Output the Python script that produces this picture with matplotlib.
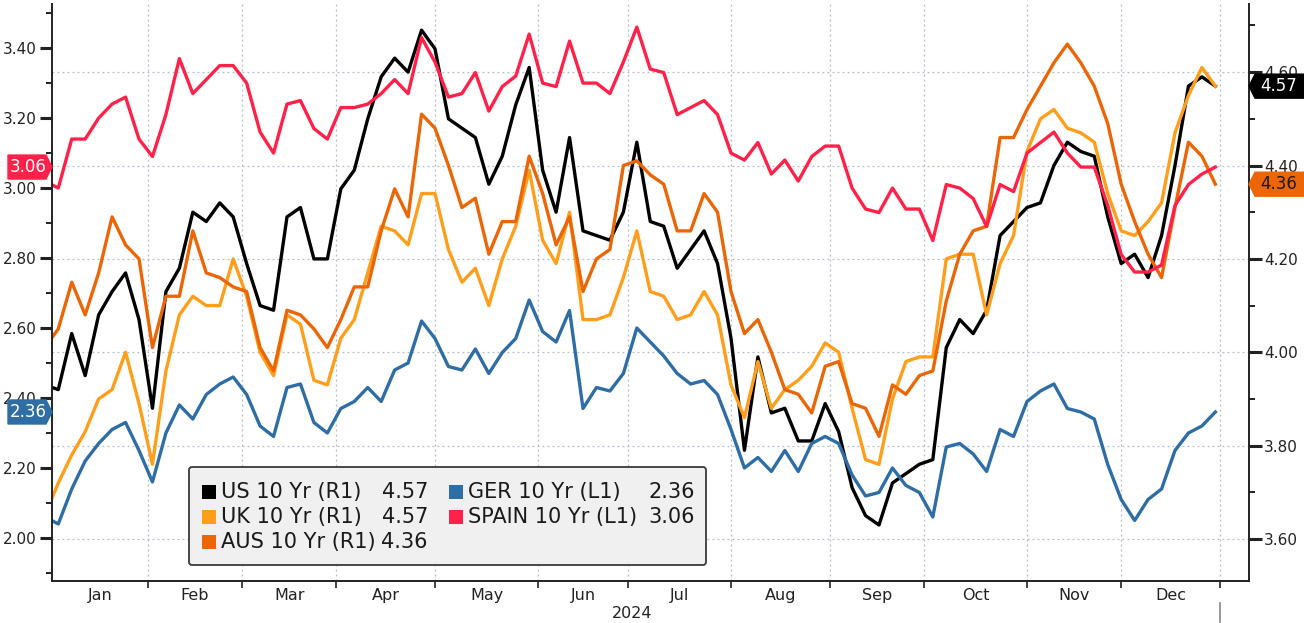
import numpy as np
import matplotlib.pyplot as plt
from matplotlib.patches import Polygon, FancyBboxPatch, Rectangle
from matplotlib.lines import Line2D
from matplotlib.ticker import FormatStrFormatter, MultipleLocator
from matplotlib.transforms import IdentityTransform, blended_transform_factory

plt.rcParams['font.family'] = ['DejaVu Sans']

W, H = 1304, 623

# every 3rd business day of 2024 (x = business days since 1 Jan 2024)
dates = np.busday_offset('2024-01-01', np.arange(0, 262, 3), roll='forward')

us_10y = [3.93, 3.92, 4.04, 3.95, 4.08, 4.13, 4.17, 4.07, 3.88, 4.13, 4.18, 4.30, 4.28, 4.32, 4.29, 4.19,
          4.10, 4.09, 4.29, 4.31, 4.20, 4.20, 4.35, 4.39, 4.50, 4.59, 4.63, 4.60, 4.69, 4.65,
          4.50, 4.48, 4.46, 4.36, 4.42, 4.53, 4.61, 4.39, 4.30, 4.46, 4.26, 4.25, 4.24, 4.30, 4.45,
          4.28, 4.27, 4.18, 4.22, 4.26, 4.19, 4.03, 3.79, 3.99, 3.87, 3.88, 3.81, 3.81, 3.89,
          3.83, 3.71, 3.65, 3.63, 3.72, 3.74, 3.76, 3.77, 4.01, 4.07, 4.04, 4.09, 4.25, 4.28, 4.31,
          4.32, 4.40, 4.45, 4.43, 4.42, 4.29, 4.19, 4.21, 4.16, 4.25, 4.40, 4.57, 4.59, 4.57]
uk_10y = [3.65, 3.72, 3.78, 3.83, 3.90, 3.92, 4.00, 3.89, 3.76, 3.96, 4.08, 4.12, 4.10, 4.10, 4.20, 4.12,
          4.00, 3.95, 4.08, 4.06, 3.94, 3.93, 4.03, 4.07, 4.17, 4.27, 4.26, 4.23, 4.34, 4.34,
          4.22, 4.15, 4.18, 4.10, 4.20, 4.27, 4.39, 4.24, 4.19, 4.30, 4.07, 4.07, 4.08, 4.16, 4.26,
          4.13, 4.12, 4.07, 4.08, 4.13, 4.08, 3.93, 3.86, 3.98, 3.88, 3.92, 3.94, 3.97, 4.02,
          4.00, 3.88, 3.77, 3.76, 3.90, 3.98, 3.99, 3.99, 4.20, 4.21, 4.21, 4.08, 4.19, 4.25, 4.43,
          4.50, 4.52, 4.48, 4.47, 4.45, 4.34, 4.26, 4.25, 4.28, 4.32, 4.47, 4.55, 4.61, 4.57]
aus_10y = [4.01, 4.05, 4.15, 4.08, 4.17, 4.29, 4.23, 4.20, 4.01, 4.12, 4.12, 4.26, 4.17, 4.16, 4.14, 4.13,
           4.01, 3.96, 4.09, 4.08, 4.05, 4.01, 4.07, 4.14, 4.14, 4.26, 4.35, 4.29, 4.51, 4.48,
           4.40, 4.31, 4.33, 4.21, 4.28, 4.28, 4.42, 4.34, 4.23, 4.29, 4.13, 4.20, 4.22, 4.40, 4.41,
           4.38, 4.36, 4.26, 4.26, 4.34, 4.30, 4.13, 4.04, 4.07, 4.00, 3.92, 3.91, 3.87, 3.97,
           3.98, 3.89, 3.88, 3.82, 3.93, 3.91, 3.95, 3.96, 4.11, 4.21, 4.26, 4.27, 4.46, 4.46, 4.52,
           4.57, 4.62, 4.66, 4.62, 4.57, 4.49, 4.36, 4.28, 4.21, 4.16, 4.31, 4.45, 4.42, 4.36]
ger_10y = [2.06, 2.04, 2.14, 2.22, 2.27, 2.31, 2.33, 2.25, 2.16, 2.30, 2.38, 2.34, 2.41, 2.44, 2.46, 2.41,
           2.32, 2.29, 2.43, 2.44, 2.33, 2.30, 2.37, 2.39, 2.43, 2.39, 2.48, 2.50, 2.62, 2.57,
           2.49, 2.48, 2.54, 2.47, 2.53, 2.57, 2.68, 2.59, 2.56, 2.65, 2.37, 2.43, 2.42, 2.47, 2.60,
           2.56, 2.52, 2.47, 2.44, 2.45, 2.41, 2.31, 2.20, 2.23, 2.19, 2.25, 2.19, 2.27, 2.29,
           2.27, 2.18, 2.12, 2.13, 2.20, 2.15, 2.13, 2.06, 2.26, 2.27, 2.24, 2.19, 2.31, 2.29, 2.39,
           2.42, 2.44, 2.37, 2.36, 2.34, 2.21, 2.11, 2.05, 2.11, 2.14, 2.25, 2.30, 2.32, 2.36]
spain_10y = [3.02, 3.00, 3.14, 3.14, 3.20, 3.24, 3.26, 3.14, 3.09, 3.21, 3.37, 3.27, 3.31, 3.35, 3.35, 3.30,
             3.16, 3.10, 3.24, 3.25, 3.17, 3.14, 3.23, 3.23, 3.24, 3.27, 3.31, 3.27, 3.43, 3.36,
             3.26, 3.27, 3.33, 3.22, 3.29, 3.32, 3.44, 3.30, 3.29, 3.42, 3.30, 3.30, 3.27, 3.36, 3.46,
             3.34, 3.33, 3.21, 3.23, 3.25, 3.21, 3.10, 3.08, 3.13, 3.04, 3.08, 3.02, 3.09, 3.12,
             3.12, 3.00, 2.94, 2.93, 3.00, 2.94, 2.94, 2.85, 3.01, 3.00, 2.97, 2.89, 3.01, 2.99, 3.10,
             3.13, 3.16, 3.10, 3.06, 3.06, 2.95, 2.81, 2.76, 2.76, 2.78, 2.95, 3.01, 3.04, 3.06]

months = ['Jan', 'Feb', 'Mar', 'Apr', 'May', 'Jun', 'Jul', 'Aug', 'Sep', 'Oct', 'Nov', 'Dec']

c_us, c_uk, c_aus, c_ger, c_spain = '#000000', '#ff9e1b', '#ec6608', '#2f6da6', '#ff2149'
txt = '#222222'
gridc = '#b3bccb'

x = np.busday_count('2024-01-01', dates)
month_starts = np.arange('2024-01', '2025-02', dtype='datetime64[M]').astype('datetime64[D]')
bounds = np.busday_count('2024-01-01', month_starts)

fig = plt.figure(figsize=(W / 100, H / 100), dpi=100)
ax = fig.add_axes([52 / W, (H - 581) / H, (1249 - 52) / W, (581 - 4) / H])
ax2 = ax.twinx()
ax.set_zorder(ax2.get_zorder() + 1)
ax.patch.set_visible(False)

x0, x1 = 1.6, 268.5
ax.set_xlim(x0, x1)
ax.set_ylim(1.877, 3.526)
ax2.set_ylim(3.51, 4.746)

for xb in bounds[1:]:
    ax2.axvline(xb, color=gridc, lw=0.9, ls=(0, (1.5, 2.5)), zorder=0)
ax2.grid(axis='y', color=gridc, lw=0.9, ls=(0, (1.5, 2.5)))

ax2.plot(x, us_10y, color=c_us, lw=2.4)
ax2.plot(x, uk_10y, color=c_uk, lw=2.4)
ax2.plot(x, aus_10y, color=c_aus, lw=2.4)
ax.plot(x, ger_10y, color=c_ger, lw=2.4)
ax.plot(x, spain_10y, color=c_spain, lw=2.4)

# axes styling
for s in ['top', 'right']:
    ax.spines[s].set_visible(False)
for s in ['top', 'left', 'bottom']:
    ax2.spines[s].set_visible(False)
for a, s in [(ax, 'left'), (ax, 'bottom'), (ax2, 'right')]:
    a.spines[s].set_color(txt)
    a.spines[s].set_linewidth(1.4)

ax.yaxis.set_major_locator(MultipleLocator(0.2))
ax.yaxis.set_minor_locator(MultipleLocator(0.1))
ax.yaxis.set_major_formatter(FormatStrFormatter('%.2f'))
ax2.yaxis.set_major_locator(MultipleLocator(0.2))
ax2.yaxis.set_minor_locator(MultipleLocator(0.1))
ax2.yaxis.set_major_formatter(FormatStrFormatter('%.2f'))
ax.tick_params(axis='y', which='major', length=9, width=2.2, color=txt, labelsize=11, labelcolor=txt, pad=2)
ax.tick_params(axis='y', which='minor', length=4, width=1.4, color=txt)
ax2.tick_params(axis='y', which='major', length=9, width=2.2, color=txt, labelsize=11, labelcolor=txt, pad=2)
ax2.tick_params(axis='y', which='minor', length=4, width=1.4, color=txt)

centers = [(max(bounds[i], x0) + bounds[i + 1]) / 2 for i in range(12)]
ax.set_xticks(bounds[1:])
ax.set_xticklabels([])
ax.set_xticks(centers, minor=True)
ax.set_xticklabels(months, minor=True)
ax.tick_params(axis='x', which='major', length=5, width=1.2, color=txt)
ax.tick_params(axis='x', which='minor', length=0, labelsize=11.5, labelcolor=txt, pad=5)

trx = blended_transform_factory(ax.transData, ax.transAxes)
ax.text((bounds[0] + bounds[-1]) / 2, -0.056, '2024', transform=trx, ha='center', va='center',
        fontsize=11.5, color=txt)
xe = ax.transData.transform((bounds[-1], 0))[0]
fig.add_artist(Line2D([xe, xe], [H - 603, H - 622], color='#888888', lw=1.2,
                      transform=IdentityTransform()))


# value tags on the axes
def tag(axis, value, label, color, tcolor, side):
    y = axis.transData.transform((0, value))[1]
    hh = 12
    if side == 'left':
        xs = axis.transAxes.transform((0, 0))[0]
        pts = [(8, y - hh), (xs - 6, y - hh), (xs, y), (xs - 6, y + hh), (8, y + hh)]
        xt = (8 + xs - 4) / 2
    else:
        xs = axis.transAxes.transform((1, 0))[0]
        pts = [(xs, y), (xs + 6, y - hh), (W, y - hh), (W, y + hh), (xs + 6, y + hh)]
        xt = (xs + 4 + W) / 2
    fig.add_artist(Polygon(pts, closed=True, facecolor=color, edgecolor=color,
                           transform=IdentityTransform(), zorder=20))
    fig.text(xt, y, label, color=tcolor, fontsize=12, ha='center', va='center',
             transform=IdentityTransform(), zorder=21)


tag(ax, spain_10y[-1], '%.2f' % spain_10y[-1], c_spain, 'white', 'left')
tag(ax, ger_10y[-1], '%.2f' % ger_10y[-1], c_ger, 'white', 'left')
tag(ax2, us_10y[-1], '%.2f' % us_10y[-1], c_us, 'white', 'right')
tag(ax2, aus_10y[-1], '%.2f' % aus_10y[-1], c_aus, '#1a1a1a', 'right')

# legend box
lx0, ly0, lx1, ly1 = 189, 467, 706, 565
fig.add_artist(FancyBboxPatch((lx0, H - ly1), lx1 - lx0, ly1 - ly0,
                              boxstyle='round,pad=0,rounding_size=3', facecolor='#f0f0f0',
                              edgecolor='#3a3a3a', lw=1.3, transform=IdentityTransform(), zorder=30))
entries = [
    (c_us, 'US 10 Yr (R1)', us_10y[-1], 202, 221, 428, 492),
    (c_uk, 'UK 10 Yr (R1)', uk_10y[-1], 202, 221, 428, 517),
    (c_aus, 'AUS 10 Yr (R1)', aus_10y[-1], 202, 221, 428, 542),
    (c_ger, 'GER 10 Yr (L1)', ger_10y[-1], 449, 468, 695, 492),
    (c_spain, 'SPAIN 10 Yr (L1)', spain_10y[-1], 449, 468, 695, 517),
]
for col, name, val, sx, tx, vx, ty in entries:
    fig.add_artist(Rectangle((sx, H - ty - 7), 14, 14, facecolor=col, edgecolor='none',
                             transform=IdentityTransform(), zorder=31))
    fig.text(tx, H - ty, name, fontsize=15, color='#1a1a1a', ha='left', va='center',
             transform=IdentityTransform(), zorder=32)
    fig.text(vx, H - ty, '%.2f' % val, fontsize=15, color='#1a1a1a', ha='right', va='center',
             transform=IdentityTransform(), zorder=32)

fig.savefig('out.png', dpi=100)
